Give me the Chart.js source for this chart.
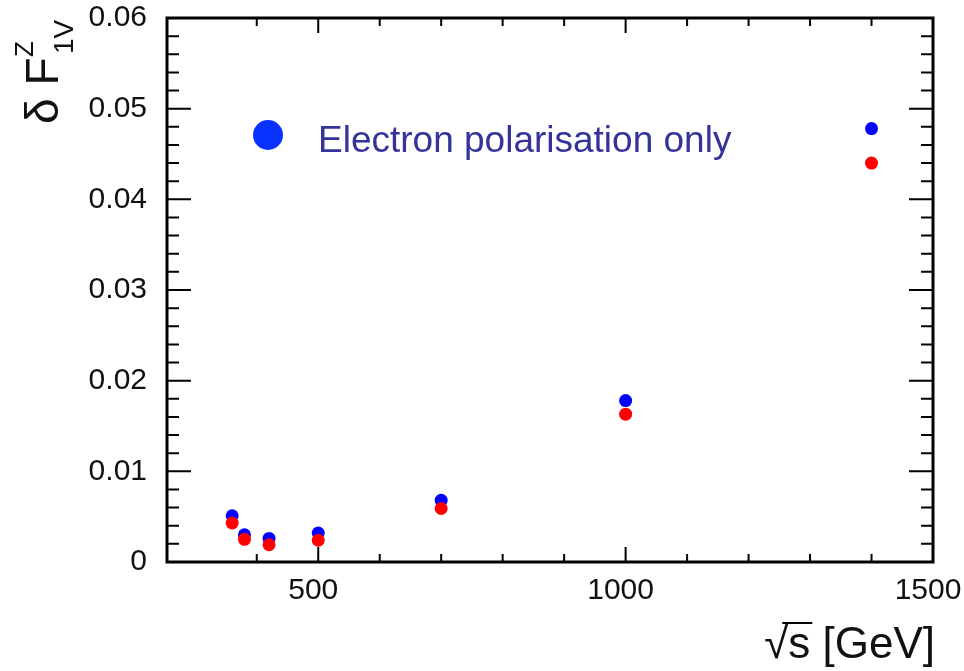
<!DOCTYPE html>
<html>
<head>
<meta charset="utf-8">
<script src="https://cdn.jsdelivr.net/npm/chart.js@4.4.0/dist/chart.umd.min.js"></script>
<style>
html, body { margin: 0; padding: 0; background: #fff; }
</style>
</head>
<body>
<canvas id="c" width="964" height="671"></canvas>
<script>
// sqrt(s) in GeV
var energies = [360, 380, 420, 500, 700, 1000, 1400];
// delta F1V^Z, blue and red series
var blueVals = [0.0051, 0.0030, 0.0026, 0.0032, 0.0068, 0.0178, 0.0478];
var redVals  = [0.0043, 0.0025, 0.0019, 0.0024, 0.0059, 0.0163, 0.0440];
var xMajor = [500, 1000, 1500];
var legendText = 'Electron polarisation only';

var FONT = '"Liberation Sans", Arial, Helvetica, sans-serif';

function toPoints(vals) {
	return energies.map(function(e, i) { return {x: e, y: vals[i]}; });
}

function isYMajor(v) {
	return Math.abs(Math.round(v * 100) - v * 100) < 1e-6;
}

// no extra room for overflowing tick labels
function noPad(s) {
	s.paddingTop = 0;
	s.paddingBottom = 0;
	s.paddingLeft = 0;
	s.paddingRight = 0;
}

// frame, inward ticks and annotations (ROOT style)
var rootFrame = {
	id: 'rootFrame',
	afterDraw: function(chart) {
		var ctx = chart.ctx;
		var a = chart.chartArea;
		var xs = chart.scales.x, ys = chart.scales.y;
		ctx.save();
		ctx.strokeStyle = '#000';
		ctx.lineWidth = 3;
		ctx.strokeRect(a.left, a.top, a.right - a.left, a.bottom - a.top);

		ctx.lineWidth = 2;
		ctx.beginPath();
		xs.ticks.forEach(function(t) {
			var px = xs.getPixelForValue(t.value);
			if (px <= a.left + 2 || px >= a.right - 2) return;
			var len = xMajor.indexOf(t.value) >= 0 ? 15 : 8;
			ctx.moveTo(px, a.bottom); ctx.lineTo(px, a.bottom - len);
			ctx.moveTo(px, a.top); ctx.lineTo(px, a.top + len);
		});
		ys.ticks.forEach(function(t) {
			var py = ys.getPixelForValue(t.value);
			if (py <= a.top + 2 || py >= a.bottom - 2) return;
			var len = isYMajor(t.value) ? 24 : 12;
			ctx.moveTo(a.left, py); ctx.lineTo(a.left + len, py);
			ctx.moveTo(a.right, py); ctx.lineTo(a.right - len, py);
		});
		ctx.stroke();

		// legend-like annotation
		ctx.fillStyle = '#0a32ff';
		ctx.beginPath();
		ctx.arc(268, 135, 15, 0, Math.PI * 2);
		ctx.fill();
		ctx.fillStyle = '#333399';
		ctx.font = '37px ' + FONT;
		ctx.textAlign = 'left';
		ctx.textBaseline = 'alphabetic';
		ctx.fillText(legendText, 318, 152);

		// x axis title
		ctx.fillStyle = '#111';
		ctx.font = '44px ' + FONT;
		ctx.textAlign = 'left';
		var title = '\u221As [GeV]';
		var w = ctx.measureText(title).width;
		var x0 = 935 - w;
		ctx.fillText(title, x0, 658);
		var wr = ctx.measureText('\u221A').width;
		var ws = ctx.measureText('\u221As').width;
		ctx.lineWidth = 2;
		ctx.beginPath();
		ctx.moveTo(x0 + wr * 0.75, 623);
		ctx.lineTo(x0 + ws + 2, 623);
		ctx.stroke();

		// y axis title, rotated
		ctx.rotate(-Math.PI / 2);
		ctx.font = '46px ' + FONT;
		ctx.fillText('\u03B4 F', -124, 58);
		ctx.font = '26px ' + FONT;
		ctx.fillText('Z', -57, 33);
		ctx.font = '28px ' + FONT;
		ctx.fillText('1V', -54, 73);
		ctx.restore();
	}
};

new Chart(document.getElementById('c'), {
	type: 'scatter',
	data: {
		datasets: [
			{
				label: 'blue',
				data: toPoints(blueVals),
				backgroundColor: '#0000ff',
				pointRadius: 6.5,
				pointBorderWidth: 0,
				order: 2
			},
			{
				label: 'red',
				data: toPoints(redVals),
				backgroundColor: '#ff0000',
				pointRadius: 6.5,
				pointBorderWidth: 0,
				order: 1
			}
		]
	},
	options: {
		responsive: false,
		animation: false,
		layout: {
			autoPadding: false,
			padding: {left: 0, top: 18, right: 31, bottom: 0}
		},
		plugins: {
			legend: {display: false},
			tooltip: {enabled: false}
		},
		scales: {
			x: {
				type: 'linear',
				min: 254,
				max: 1500,
				afterFit: function(s) { s.height = 109; noPad(s); },
				border: {display: false},
				grid: {display: false, drawTicks: false},
				ticks: {
					stepSize: 100,
					autoSkip: false,
					maxRotation: 0,
					padding: 11,
					labelOffset: -5,
					color: '#111',
					font: {family: FONT, size: 30},
					callback: function(v) { return xMajor.indexOf(v) >= 0 ? String(v) : ''; }
				}
			},
			y: {
				type: 'linear',
				min: 0,
				max: 0.06,
				afterFit: function(s) { s.width = 167; noPad(s); },
				border: {display: false},
				grid: {display: false, drawTicks: false},
				ticks: {
					stepSize: 0.002,
					autoSkip: false,
					padding: 20,
					color: '#111',
					font: {family: FONT, size: 30},
					callback: function(v) {
						if (!isYMajor(v)) return '';
						return v === 0 ? '0' : v.toFixed(2);
					}
				}
			}
		}
	},
	plugins: [rootFrame]
});
</script>
</body>
</html>
